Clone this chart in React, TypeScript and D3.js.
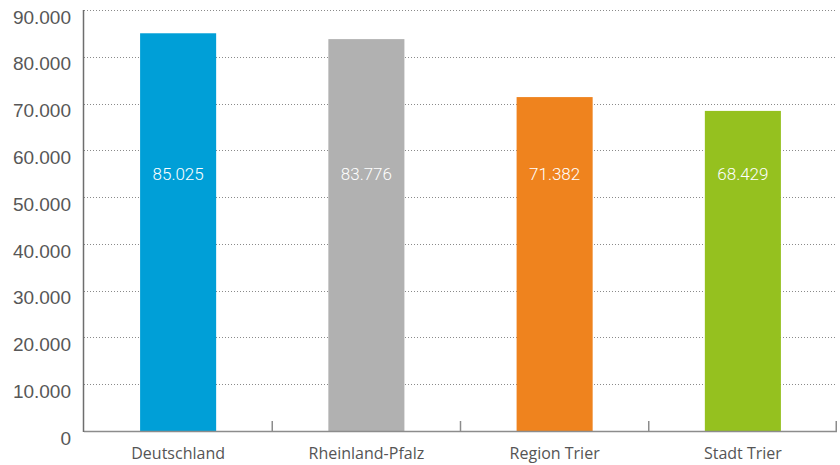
import React, { useEffect, useRef } from "react"
import * as d3 from "d3"

const categories = ["Deutschland", "Rheinland-Pfalz", "Region Trier", "Stadt Trier"]
const values = [85025, 83776, 71382, 68429]
const barColors = ["#009fd7", "#b1b1b1", "#ef831e", "#95c11f"]
const yTicks = [0, 10000, 20000, 30000, 40000, 50000, 60000, 70000, 80000, 90000]

const fmt = (v: number) => (v === 0 ? "0" : d3.format(",")(v).replace(/,/g, "."))

export default function App() {
  const svgRef = useRef<SVGSVGElement>(null)

  useEffect(() => {
    if (!svgRef.current) return
    document.body.style.margin = "0"
    document.body.style.overflow = "hidden"
    d3.select(svgRef.current).selectAll("*").remove()

    const width = 840
    const height = 465
    const margin = { top: 10, right: 3, bottom: 34, left: 84 }
    const innerW = width - margin.left - margin.right
    const innerH = height - margin.top - margin.bottom

    const svg = d3.select(svgRef.current).attr("width", width).attr("height", height)
    const g = svg.append("g").attr("transform", `translate(${margin.left},${margin.top})`)

    const x = d3.scaleBand().domain(categories).range([0, innerW]).padding(0)
    const y = d3.scaleLinear().domain([0, 90000]).range([innerH, 0])
    const barW = x.bandwidth() * 0.404

    // Gridlines
    g.selectAll(".grid")
      .data(yTicks.filter(t => t > 0))
      .enter()
      .append("line")
      .attr("x1", 0)
      .attr("x2", innerW)
      .attr("y1", d => Math.round(y(d)) + 0.5)
      .attr("y2", d => Math.round(y(d)) + 0.5)
      .attr("stroke", "#8a8a8a")
      .attr("stroke-width", 1)
      .attr("stroke-dasharray", "1,2")

    // Y labels
    g.selectAll(".ylab")
      .data(yTicks)
      .enter()
      .append("text")
      .attr("x", -13)
      .attr("y", d => y(d) + 7)
      .attr("dy", "0.35em")
      .attr("text-anchor", "end")
      .attr("fill", "#575757")
      .attr("font-family", "'Liberation Sans', Arial, sans-serif")
      .attr("font-size", "19px")
      .text(d => fmt(d))

    // Bars
    g.selectAll(".bar")
      .data(values)
      .enter()
      .append("rect")
      .attr("x", (d, i) => (x(categories[i]) || 0) + (x.bandwidth() - barW) / 2)
      .attr("y", d => y(d))
      .attr("width", barW)
      .attr("height", d => innerH - y(d))
      .attr("fill", (d, i) => barColors[i])

    // Value labels
    g.selectAll(".val")
      .data(values)
      .enter()
      .append("text")
      .attr("x", (d, i) => (x(categories[i]) || 0) + x.bandwidth() / 2)
      .attr("y", y(55000))
      .attr("dy", "0.35em")
      .attr("text-anchor", "middle")
      .attr("fill", "#ffffff")
      .attr("font-family", "Roboto, sans-serif")
      .attr("font-weight", "300")
      .attr("font-size", "17px")
      .text(d => fmt(d))

    // X axis line
    g.append("line")
      .attr("x1", 0)
      .attr("x2", innerW)
      .attr("y1", innerH + 0.5)
      .attr("y2", innerH + 0.5)
      .attr("stroke", "#8c8c8c")
      .attr("stroke-width", 1.5)

    // Category separators
    g.selectAll(".sep")
      .data(categories)
      .enter()
      .append("line")
      .attr("x1", (d, i) => (i + 1) * x.bandwidth() - (i === 3 ? 0.75 : 0))
      .attr("x2", (d, i) => (i + 1) * x.bandwidth() - (i === 3 ? 0.75 : 0))
      .attr("y1", innerH - 10)
      .attr("y2", innerH)
      .attr("stroke", "#8c8c8c")
      .attr("stroke-width", 1.5)

    // Y axis line
    g.append("line")
      .attr("x1", -0.5)
      .attr("x2", -0.5)
      .attr("y1", 0)
      .attr("y2", innerH + 1)
      .attr("stroke", "#6e6e6e")
      .attr("stroke-width", 1.5)

    // Category labels
    g.selectAll(".cat")
      .data(categories)
      .enter()
      .append("text")
      .attr("x", d => (x(d) || 0) + x.bandwidth() / 2)
      .attr("y", innerH + 22)
      .attr("dy", "0.35em")
      .attr("text-anchor", "middle")
      .attr("fill", "#555555")
      .attr("font-family", "'Open Sans', sans-serif")
      .attr("font-size", "16px")
      .text(d => d)
  }, [])

  return (
    <div style={{ width: 840, height: 465, background: "#fff" }}>
      <svg ref={svgRef} style={{ display: "block" }}></svg>
    </div>
  )
}
